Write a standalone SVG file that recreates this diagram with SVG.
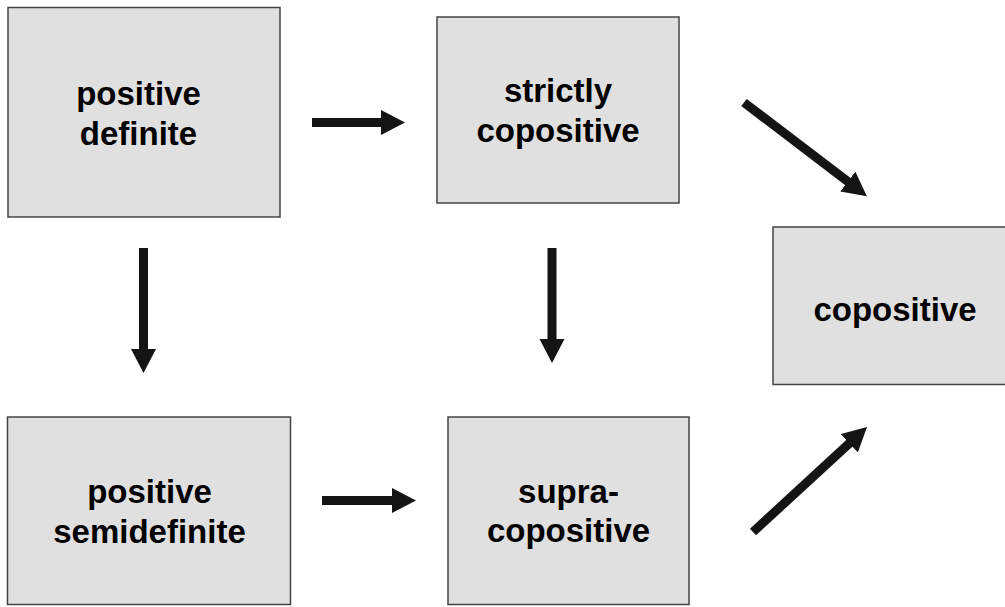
<svg xmlns="http://www.w3.org/2000/svg" width="1005" height="607" viewBox="0 0 1005 607">
<defs>
<style>
.box{fill:#e1e0e0;stroke:#444;stroke-width:1.5}
.lbl{font-family:"Liberation Sans",Arial,Helvetica,sans-serif;font-weight:bold;font-size:33px;fill:#000;text-anchor:middle}
.arr{stroke:#141414;stroke-width:9;fill:none;marker-end:url(#head)}
</style>
<marker id="head" markerUnits="userSpaceOnUse" markerWidth="26" markerHeight="26" refX="1" refY="12.5" orient="auto">
<path d="M0,0 L24,12.5 L0,25 z" fill="#141414"/>
</marker>
</defs>
<rect width="1005" height="607" fill="#fff"/>
<g id="pd">
<rect class="box" x="8" y="7.5" width="272" height="209.5"/>
<text class="lbl" x="138.5" y="105">positive</text>
<text class="lbl" x="138.5" y="145">definite</text>
</g>
<g id="sc">
<rect class="box" x="437" y="17" width="242" height="186"/>
<text class="lbl" x="558" y="102">strictly</text>
<text class="lbl" x="558" y="142">copositive</text>
</g>
<g id="cp">
<rect class="box" x="773" y="227" width="240" height="157.5"/>
<text class="lbl" x="895" y="321">copositive</text>
</g>
<g id="psd">
<rect class="box" x="7.5" y="417" width="283" height="187.5"/>
<text class="lbl" x="149.5" y="503">positive</text>
<text class="lbl" x="149.5" y="543">semidefinite</text>
</g>
<g id="sup">
<rect class="box" x="448" y="417" width="241" height="187.5"/>
<text class="lbl" x="568.5" y="503">supra-</text>
<text class="lbl" x="568.5" y="542">copositive</text>
</g>
<g id="connectors">
<line class="arr" x1="312" y1="122.5" x2="382" y2="122.5"/>
<line class="arr" x1="143.5" y1="248" x2="143.5" y2="350"/>
<line class="arr" x1="552" y1="248" x2="552" y2="340"/>
<line class="arr" x1="322" y1="500.5" x2="393" y2="500.5"/>
<line class="arr" x1="744" y1="102.5" x2="848.6" y2="182.2"/>
<line class="arr" x1="753" y1="532" x2="850.1" y2="442.6"/>
</g>
</svg>
